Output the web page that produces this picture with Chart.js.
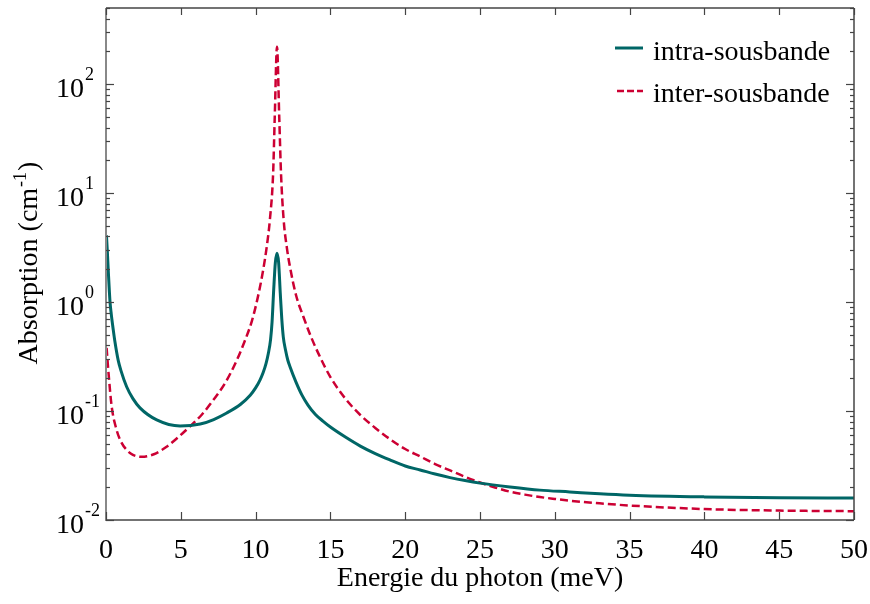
<!DOCTYPE html>
<html><head><meta charset="utf-8">
<style>html,body{margin:0;padding:0;background:#fff}#wrap{width:870px;height:604px}</style>
<script src="https://cdn.jsdelivr.net/npm/chart.js@4.4.0/dist/chart.umd.min.js"></script>
</head><body><div id="wrap"><canvas id="c" width="870" height="604"></canvas></div>
<script>
// ---- data (photon energy in meV, absorption in cm^-1) ----
const intraE = [0.03, 0.09, 0.15, 0.27, 0.35, 0.49, 0.6, 0.82, 1.0, 1.38, 1.8, 2.27, 3.39, 4.95, 6.3, 7.2, 8.07, 9.0, 9.64, 10.0, 10.3, 10.5, 10.7, 10.85, 11.0, 11.1, 11.21, 11.32, 11.43, 11.54, 11.65, 11.75, 11.85, 12.0, 12.15, 12.3, 12.7, 13.1, 13.5, 14, 14.5, 15, 16, 17, 18, 19, 20, 21, 22, 23, 24, 25, 27, 29, 31, 33, 35, 40, 45, 50];
const intraA = [4.1, 2.9, 1.97, 1.0, 0.78, 0.55, 0.43, 0.29, 0.235, 0.167, 0.13, 0.107, 0.083, 0.073, 0.076, 0.0836, 0.096, 0.1155, 0.1396, 0.163, 0.1936, 0.2244, 0.274, 0.337, 0.453, 0.655, 1.3, 2.3, 2.8, 2.3, 1.2, 0.7, 0.48, 0.363, 0.294, 0.255, 0.1845, 0.140, 0.1135, 0.0929, 0.0809, 0.0713, 0.0577, 0.0477, 0.0407, 0.0355, 0.0313, 0.0288, 0.0264, 0.0245, 0.0230, 0.0218, 0.0201, 0.0188, 0.0181, 0.0174, 0.0169, 0.0163, 0.0160, 0.0159];
const interE = [0.04, 0.15, 0.38, 0.71, 1.0, 1.38, 1.8, 2.38, 3.2, 4.05, 4.8, 5.6, 6.4, 7.17, 8.0, 8.73, 9.25, 9.75, 10.15, 10.5, 10.75, 10.96, 11.17, 11.28, 11.43, 11.58, 11.7, 11.87, 12.1, 12.3, 12.7, 13.2, 13.7, 14.3, 15, 16, 17, 18, 19, 20, 21, 22, 23, 24, 25, 26, 27, 28, 29, 30, 31, 33, 35, 40, 45, 50];
const interA = [0.38, 0.24, 0.11, 0.067, 0.0525, 0.044, 0.0396, 0.038, 0.0401, 0.047, 0.0571, 0.072, 0.0925, 0.126, 0.1845, 0.29, 0.43, 0.67, 1.11, 1.95, 3.26, 5.8, 15, 50, 220, 50, 15, 5.8, 3.08, 2.1, 1.16, 0.73, 0.482, 0.315, 0.205, 0.13, 0.092, 0.070, 0.055, 0.0448, 0.0383, 0.0326, 0.0285, 0.0249, 0.0221, 0.0199, 0.0182, 0.0171, 0.01625, 0.0156, 0.01503, 0.01422, 0.01358, 0.0126, 0.0122, 0.01205];
const seriesNames = ['intra-sousbande', 'inter-sousbande'];
const xTicks = [0, 5, 10, 15, 20, 25, 30, 35, 40, 45, 50];
const yDecades = [-2, -1, 0, 1, 2];
const yExpLabels = ['-2', '-1', '0', '1', '2'];
const xTitle = 'Energie du photon (meV)';
const yTitleMain = 'Absorption (cm';
const yTitleExp = '-1';
const yTitleEnd = ')';

const FONT = "'Liberation Serif','Times New Roman',serif";
const TEAL = '#006666';
const RED = '#cc0033';

function pts(xs, ys) { return xs.map((x, i) => ({ x: x, y: ys[i] })); }

const framePlugin = {
  id: 'frame',
  afterDraw(chart) {
    const ctx = chart.ctx;
    const { left, right, top, bottom } = chart.chartArea;
    const xs = chart.scales.x, ys = chart.scales.y;
    ctx.save();
    function seg(x1, y1, x2, y2) { ctx.beginPath(); ctx.moveTo(x1, y1); ctx.lineTo(x2, y2); ctx.stroke(); }
    // frame
    ctx.lineWidth = 1.5;
    ctx.strokeStyle = '#444';
    seg(left, top, right, top);
    seg(right, top, right, bottom);
    seg(left, bottom, right, bottom);
    ctx.strokeStyle = '#888';
    ctx.lineWidth = 2;
    seg(left, top, left, bottom + 1);
    // x ticks (inward, bottom + top)
    ctx.strokeStyle = '#444';
    ctx.lineWidth = 1.2;
    xTicks.forEach(v => {
      const px = Math.round(xs.getPixelForValue(v)) + 0.5;
      seg(px, bottom, px, bottom - 8);
      seg(px, top, px, top + 7);
    });
    // y ticks (log, major + minor)
    yDecades.forEach(d => {
      for (let m = 1; m <= 9; m++) {
        const val = m * Math.pow(10, d);
        if (val > ys.max * 1.0001) break;
        const py = Math.round(ys.getPixelForValue(val)) + 0.5;
        const len = m === 1 ? 8 : 4;
        seg(left, py, left + len, py);
        seg(right, py, right - len, py);
      }
    });
    // y tick labels 10^n
    ctx.fillStyle = '#000';
    ctx.textBaseline = 'alphabetic';
    yDecades.forEach((d, i) => {
      const py = ys.getPixelForValue(Math.pow(10, d));
      ctx.font = '28px ' + FONT;
      ctx.textAlign = 'right';
      ctx.fillText('10', 84, py + 13);
      ctx.font = '18px ' + FONT;
      ctx.textAlign = 'left';
      ctx.fillText(yExpLabels[i], 85, py - 4);
    });
    // x title
    ctx.font = '28px ' + FONT;
    ctx.textAlign = 'center';
    ctx.fillText(xTitle, (left + right) / 2, 586);
    // y title (rotated)
    ctx.save();
    ctx.translate(37, (top + bottom) / 2);
    ctx.rotate(-Math.PI / 2);
    ctx.textAlign = 'left';
    ctx.font = '28px ' + FONT;
    const w1 = ctx.measureText(yTitleMain).width;
    const w3 = ctx.measureText(yTitleEnd).width;
    ctx.font = '18px ' + FONT;
    const w2 = ctx.measureText(yTitleExp).width;
    const start = -(w1 + w2 + w3) / 2;
    ctx.font = '28px ' + FONT;
    ctx.fillText(yTitleMain, start, 0);
    ctx.font = '18px ' + FONT;
    ctx.fillText(yTitleExp, start + w1 + 1, -11);
    ctx.font = '28px ' + FONT;
    ctx.fillText(yTitleEnd, start + w1 + w2 + 2, 0);
    ctx.restore();
    // legend
    ctx.textAlign = 'left';
    ctx.font = '28px ' + FONT;
    ctx.strokeStyle = TEAL; ctx.lineWidth = 3; ctx.setLineDash([]);
    seg(615, 48, 643, 48);
    ctx.fillText(seriesNames[0], 653, 60);
    ctx.strokeStyle = RED; ctx.lineWidth = 2.5; ctx.setLineDash([7, 3]);
    seg(617, 91, 643, 91);
    ctx.setLineDash([]);
    ctx.fillText(seriesNames[1], 653, 102);
    ctx.restore();
  }
};

new Chart(document.getElementById('c').getContext('2d'), {
  type: 'line',
  data: {
    datasets: [
      { label: seriesNames[0], data: pts(intraE, intraA), borderColor: TEAL, backgroundColor: TEAL, borderWidth: 3, pointRadius: 0, cubicInterpolationMode: 'monotone', fill: false },
      { label: seriesNames[1], data: pts(interE, interA), borderColor: RED, backgroundColor: RED, borderWidth: 2.5, borderDash: [8, 4], pointRadius: 0, cubicInterpolationMode: 'monotone', fill: false }
    ]
  },
  options: {
    responsive: false,
    animation: false,
    layout: { padding: { top: 8, right: 16, left: 0, bottom: 0 } },
    plugins: { legend: { display: false }, tooltip: { enabled: false } },
    scales: {
      x: {
        type: 'linear', min: 0, max: 50,
        afterBuildTicks: s => { s.ticks = xTicks.map(v => ({ value: v })); },
        ticks: { font: { family: FONT, size: 28 }, color: '#000', padding: 6, maxRotation: 0, autoSkip: false, callback: v => String(v) },
        grid: { display: false },
        border: { display: false },
        afterFit: s => { s.height = 84; s.paddingLeft = 0; s.paddingRight = 0; }
      },
      y: {
        type: 'logarithmic', min: 0.01, max: 500,
        ticks: { display: false },
        grid: { display: false },
        border: { display: false },
        afterFit: s => { s.width = 106; s.paddingTop = 0; s.paddingBottom = 0; }
      }
    }
  },
  plugins: [framePlugin]
});
</script>
</body></html>
